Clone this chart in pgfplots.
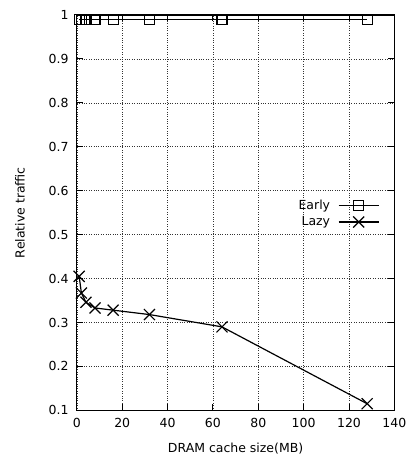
\documentclass[border=0pt]{standalone}
\usepackage{fontspec}
\setmainfont{DejaVu Sans}
\usepackage{pgfplots}
\pgfplotsset{compat=1.18}
\pgfplotsset{gnulegend/.style={legend image code/.code={\draw[mark repeat=2,mark phase=2,##1] plot coordinates {(0bp,0bp) (20bp,0bp) (40bp,0bp)};}}}
\begin{document}
\fontsize{12.5bp}{15bp}\selectfont
\begin{tikzpicture}
\path (-77bp,-47bp) rectangle (337bp,411bp);
\begin{axis}[at={(0,0)},anchor=south west,
  width=318bp,height=396bp,scale only axis,
  xmin=0,xmax=140,ymin=0.1,ymax=1,
  xtick={0,20,40,60,80,100,120,140},
  ytick={0.1,0.2,0.3,0.4,0.5,0.6,0.7,0.8,0.9,1},
  /pgf/number format/assume math mode=true,
  grid=major,grid style={black!80,dotted,line width=0.6bp},
  axis line style={black,line width=1.2bp},
  tick style={black,line width=1bp},major tick length=6bp,
  xticklabel style={yshift=-4bp},yticklabel style={xshift=-4bp},
  xlabel={DRAM cache size(MB)},ylabel={Relative traffic},
  xlabel style={at={(axis description cs:0.5,-0.096)},anchor=center},
  ylabel style={at={(axis description cs:-0.179,0.5)},anchor=center},
  legend style={draw=none,fill=none,at={(0.953,0.497)},anchor=east,inner sep=0pt,row sep=1bp},
  legend cell align=right,legend plot pos=right]
\addplot[black,line width=1.2bp,mark=square,mark size=5bp,gnulegend] coordinates {
(1,0.99) (2,0.99) (4,0.99) (8,0.99) (16,0.99) (32,0.99) (64,0.99) (128,0.99)};
\addlegendentry{\mbox{Early}\hspace*{6bp}}
\addplot[black,line width=1.2bp,mark=x,mark size=7.8bp,gnulegend] coordinates {
(1,0.405) (2,0.367) (4,0.346) (8,0.333) (16,0.328) (32,0.318) (64,0.290) (128,0.115)};
\addlegendentry{\mbox{Lazy}\hspace*{6bp}}
\end{axis}
\end{tikzpicture}
\end{document}
